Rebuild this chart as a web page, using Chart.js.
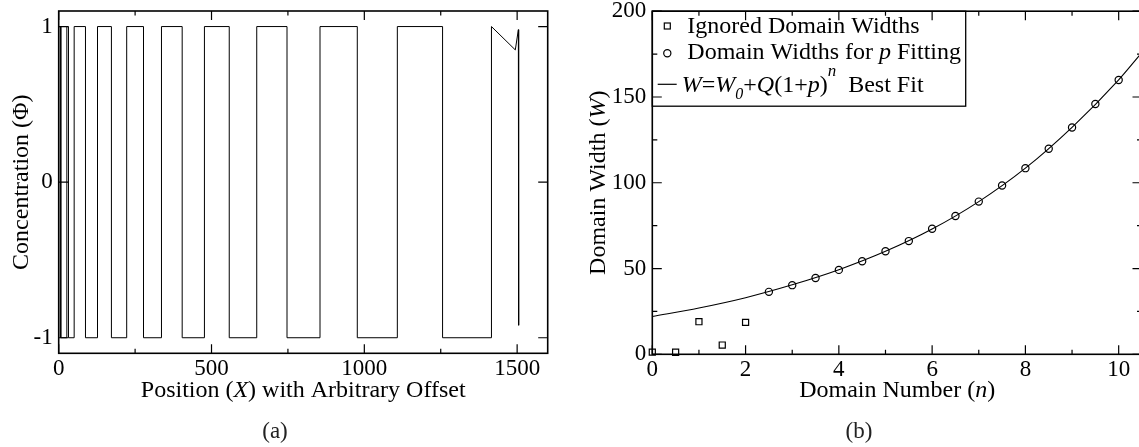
<!DOCTYPE html>
<html><head><meta charset="utf-8">
<script src="https://cdn.jsdelivr.net/npm/chart.js@4.4.1/dist/chart.umd.min.js"></script>
<style>
html,body{margin:0;padding:0;background:#fff;overflow:hidden;width:1139px;height:447px;position:relative;}
#ca{position:absolute;left:0;top:0;}
#cb{position:absolute;left:580px;top:0;}
</style></head><body>
<canvas id="ca" width="580" height="447"></canvas>
<canvas id="cb" width="600" height="447"></canvas>
<script>
// ---------- Panel (a): concentration profile ----------
// each point: position where a domain ends and the value of that domain (drawn as steps)
const domainStartX = [0, 5.1, 6.4, 7.6, 26.6, 32, 50.6, 87.6, 127, 172.5, 222.5, 277.5, 336.3, 404, 476.8, 558, 648, 747, 855, 977, 1108, 1256, 1416];
const domainPhi    = [1, -1, 1, -1, 1, -1, 1, -1, 1, -1, 1, -1, 1, -1, 1, -1, 1, -1, 1, -1, 1, -1, 1];
const tailX   = [1416, 1494, 1504, 1505];
const tailPhi = [1, 0.85, 0.98, -0.92];
const xTicksA = [0, 500, 1000, 1500];
const xMinorA = [250, 750, 1250];
const yTicksA = [-1, 0, 1];
const yMinorA = [];

// ---------- Panel (b): domain widths ----------
const ignoredN = [0, 0.5, 1, 1.5, 2];
const ignoredW = [1.3, 1.2, 19, 5.4, 18.6];
const fitN = [2.5, 3, 3.5, 4, 4.5, 5, 5.5, 6, 6.5, 7, 7.5, 8, 8.5, 9, 9.5, 10];
const fitW = [36.4, 40.3, 44.5, 49.2, 54.2, 60.1, 66.0, 73.2, 80.6, 89.0, 98.4, 108.5, 119.8, 132.2, 145.9, 159.9];
const curveN = [0, 1, 2, 3, 4, 5, 6, 7, 8, 9, 10, 10.5];
const curveW = [22, 27, 33, 40.5, 49.3, 60, 73, 89, 108.5, 132.3, 160, 176];
const xTicksB = [0, 2, 4, 6, 8, 10];
const xMinorB = [1, 3, 5, 7, 9];
const yTicksB = [0, 50, 100, 150, 200];
const yMinorB = [25, 75, 125, 175];

const SERIF = "'Liberation Serif', 'Times New Roman', serif";
Chart.defaults.font.family = SERIF;
Chart.defaults.color = '#000';

function segFont(s, size){ return (s.i ? 'italic ' : '') + (s.size || size) + 'px ' + SERIF; }
function richWidth(ctx, segs, size){ let w = 0; for (const s of segs){ ctx.font = segFont(s, size); w += ctx.measureText(s.t).width; } return w; }
function drawRich(ctx, segs, x, y, size, align){
  let cx = align === 'center' ? x - richWidth(ctx, segs, size) / 2 : x;
  ctx.textBaseline = 'alphabetic'; ctx.textAlign = 'left'; ctx.fillStyle = '#000';
  for (const s of segs){
    ctx.font = segFont(s, size);
    ctx.fillText(s.t, cx, y + (s.dy || 0));
    cx += ctx.measureText(s.t).width;
  }
}
const pts = (xs, ys) => xs.map((x, i) => ({x: x, y: ys[i]}));
const fixTicks = vals => (scale) => { scale.ticks = vals.map(v => ({value: v})); };

const framePlugin = {
  id: 'frame',
  afterDatasetsDraw(chart, args, o){
    const {ctx, chartArea: a} = chart;
    const sx = chart.scales.x, sy = chart.scales.y;
    ctx.save();
    ctx.strokeStyle = '#000';
    ctx.lineWidth = 1.2;
    ctx.beginPath();
    const xt = (vals, len) => vals.forEach(v => {
      const p = sx.getPixelForValue(v);
      ctx.moveTo(p, a.bottom); ctx.lineTo(p, a.bottom - len);
      ctx.moveTo(p, a.top); ctx.lineTo(p, a.top + len);
    });
    const yt = (vals, len) => vals.forEach(v => {
      const p = sy.getPixelForValue(v);
      ctx.moveTo(a.left, p); ctx.lineTo(a.left + len, p);
      ctx.moveTo(a.right, p); ctx.lineTo(a.right - len, p);
    });
    xt(o.xMajor, 9); xt(o.xMinor, 4.5);
    yt(o.yMajor, 9.5); yt(o.yMinor, 5);
    ctx.stroke();
    ctx.lineWidth = 1.6;
    ctx.strokeRect(a.left, a.top, a.right - a.left, a.bottom - a.top);
    ctx.restore();
  },
  afterDraw(chart, args, o){
    const {ctx, chartArea: a} = chart;
    ctx.save();
    drawRich(ctx, o.xTitle, (a.left + a.right) / 2, o.xTitleY, 24, 'center');
    ctx.save();
    ctx.translate(o.yTitleX, (a.top + a.bottom) / 2);
    ctx.rotate(-Math.PI / 2);
    drawRich(ctx, o.yTitle, 0, 0, 24, 'center');
    ctx.restore();
    ctx.font = '23px ' + SERIF; ctx.fillStyle = '#222'; ctx.textAlign = 'center'; ctx.textBaseline = 'alphabetic';
    ctx.fillText(o.caption, o.captionX, o.captionY);
    ctx.restore();
  }
};

const legendPlugin = {
  id: 'boxLegend',
  afterDatasetsDraw(chart, args, o){
    if (!o || !o.rows) return;
    const {ctx, chartArea: a} = chart;
    const L = a.left, T = a.top;
    ctx.save();
    ctx.fillStyle = '#fff';
    ctx.fillRect(L, T, 313.4, 95);
    ctx.strokeStyle = '#000'; ctx.lineWidth = 1.3;
    ctx.strokeRect(L, T, 313.4, 95);
    ctx.lineWidth = 1.2;
    // markers
    ctx.strokeRect(L + 12, T + 11.8, 6, 6);
    ctx.beginPath(); ctx.arc(L + 15, T + 42.1, 3.6, 0, Math.PI * 2); ctx.stroke();
    ctx.beginPath(); ctx.moveTo(L + 5.4, T + 73.1); ctx.lineTo(L + 24.4, T + 73.1); ctx.stroke();
    drawRich(ctx, o.rows[0], L + 35, T + 22.1, 24, 'left');
    drawRich(ctx, o.rows[1], L + 35, T + 48.1, 24, 'left');
    drawRich(ctx, o.rows[2], L + 29.5, T + 80.8, 24, 'left');
    ctx.restore();
  }
};

const tickFont = {family: SERIF, size: 23};

new Chart(document.getElementById('ca'), {
  type: 'scatter',
  data: {
    datasets: [
      {data: pts(domainStartX, domainPhi), showLine: true, stepped: 'before', borderColor: '#000', borderWidth: 1, pointRadius: 0, fill: false},
      {data: pts(tailX, tailPhi), showLine: true, borderColor: '#000', borderWidth: 1, pointRadius: 0, fill: false}
    ]
  },
  options: {
    responsive: false, animation: false, devicePixelRatio: 1,
    layout: {padding: {left: 0, top: 11, right: 32.3, bottom: 0}},
    plugins: {
      legend: {display: false}, tooltip: {enabled: false},
      frame: {
        xMajor: xTicksA, xMinor: xMinorA, yMajor: yTicksA, yMinor: yMinorA,
        xTitle: [{t: 'Position ('}, {t: 'X', i: true}, {t: ') with Arbitrary Offset'}],
        yTitle: [{t: 'Concentration (Φ)'}],
        xTitleY: 396.7, yTitleX: 27.5, caption: '(a)', captionX: 275, captionY: 438
      }
    },
    scales: {
      x: {type: 'linear', min: 0, max: 1600,
          grid: {display: false, drawTicks: false}, border: {display: false},
          ticks: {font: tickFont, color: '#000', padding: 2, maxRotation: 0, callback: v => String(v)},
          afterBuildTicks: fixTicks(xTicksA),
          afterFit: s => { s.height = 447 - 353.3; s.paddingLeft = 0; s.paddingRight = 0; }},
      y: {type: 'linear', min: -1.1, max: 1.1,
          grid: {display: false, drawTicks: false}, border: {display: false},
          ticks: {font: tickFont, color: '#000', padding: 6, callback: v => String(v)},
          afterBuildTicks: fixTicks(yTicksA),
          afterFit: s => { s.width = 58.7; s.paddingTop = 0; s.paddingBottom = 0; }}
    }
  },
  plugins: [framePlugin]
});

new Chart(document.getElementById('cb'), {
  type: 'scatter',
  data: {
    datasets: [
      {data: pts(curveN, curveW), showLine: true, cubicInterpolationMode: 'monotone', borderColor: '#000', borderWidth: 1.1, pointRadius: 0, fill: false},
      {data: pts(ignoredN, ignoredW), pointStyle: 'rect', pointRadius: 4.3, borderColor: '#000', borderWidth: 1.2, backgroundColor: 'rgba(0,0,0,0)', clip: false},
      {data: pts(fitN, fitW), pointStyle: 'circle', pointRadius: 3.6, borderColor: '#000', borderWidth: 1.2, backgroundColor: 'rgba(0,0,0,0)', clip: false}
    ]
  },
  options: {
    responsive: false, animation: false, devicePixelRatio: 1,
    layout: {padding: {left: 0, top: 11.2, right: 38, bottom: 0}},
    plugins: {
      legend: {display: false}, tooltip: {enabled: false},
      boxLegend: {
        rows: [
          [{t: 'Ignored Domain Widths'}],
          [{t: 'Domain Widths for '}, {t: 'p', i: true}, {t: ' Fitting'}],
          [{t: 'W', i: true}, {t: '='}, {t: 'W', i: true}, {t: '0', i: true, size: 16, dy: 7}, {t: '+'}, {t: 'Q', i: true}, {t: '(1+'}, {t: 'p', i: true}, {t: ')'}, {t: 'n', i: true, size: 17, dy: -16}, {t: '  Best Fit'}]
        ]
      },
      frame: {
        xMajor: xTicksB, xMinor: xMinorB, yMajor: yTicksB, yMinor: yMinorB,
        xTitle: [{t: 'Domain Number ('}, {t: 'n', i: true}, {t: ')'}],
        yTitle: [{t: 'Domain Width ('}, {t: 'W', i: true}, {t: ')'}],
        xTitleY: 396.7, yTitleX: 24.5, caption: '(b)', captionX: 279, captionY: 438
      }
    },
    scales: {
      x: {type: 'linear', min: 0, max: 10.5,
          grid: {display: false, drawTicks: false}, border: {display: false},
          ticks: {font: tickFont, color: '#000', padding: 2, maxRotation: 0, callback: v => String(v)},
          afterBuildTicks: fixTicks(xTicksB),
          afterFit: s => { s.height = 447 - 354.3; s.paddingLeft = 0; s.paddingRight = 0; }},
      y: {type: 'linear', min: 0, max: 200,
          grid: {display: false, drawTicks: false}, border: {display: false},
          ticks: {font: tickFont, color: '#000', padding: 6, callback: v => String(v)},
          afterBuildTicks: fixTicks(yTicksB),
          afterFit: s => { s.width = 72.3; s.paddingTop = 0; s.paddingBottom = 0; }}
    }
  },
  plugins: [legendPlugin, framePlugin]
});
</script>
</body></html>
